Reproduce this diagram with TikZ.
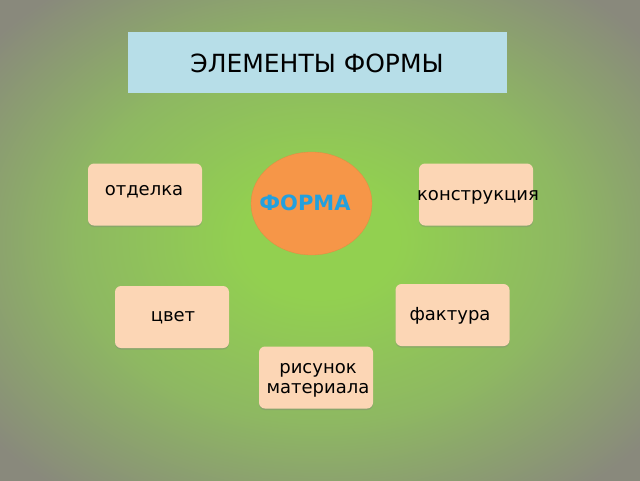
\documentclass[tikz,border=0pt]{standalone}
\usepackage{fontspec}
\setmainfont{DejaVu Sans}
\usepackage{tikz}
\usetikzlibrary{shapes.geometric,shadows}
\usepackage{xcolor}
\definecolor{bgA}{RGB}{146,208,80}
\definecolor{bgB}{RGB}{142,184,98}
\definecolor{bgC}{RGB}{137,137,124}
\definecolor{titlefill}{RGB}{183,222,232}
\definecolor{peach}{RGB}{252,214,181}
\definecolor{formfill}{RGB}{246,150,72}
\definecolor{formtext}{RGB}{35,160,222}
\pgfdeclareradialshading{bgshade}{\pgfpoint{0bp}{0bp}}{%
  color(0bp)=(bgA); color(6bp)=(bgA); color(19bp)=(bgB);
  color(33bp)=(bgC); color(50bp)=(bgC)}
\tikzset{
  titlebox/.style={draw=none, fill=titlefill, minimum width=379pt, minimum height=61pt, inner sep=0pt},
  formoval/.style={ellipse, draw=formfill!92!black, line width=0.3pt, fill=formfill, minimum width=121pt, minimum height=103pt, inner sep=0pt},
  elbox/.style={draw=none, rounded corners=6pt, fill=peach, minimum width=114pt, minimum height=62pt, inner sep=0pt,
    drop shadow={shadow xshift=0pt, shadow yshift=-1.5pt, opacity=0.35}},
  lab/.style={font=\fontsize{18}{20}\selectfont, align=center, inner sep=0pt},
  biglab/.style={font=\fontsize{25}{28}\selectfont, inner sep=0pt},
  formlab/.style={font=\fontsize{21}{24}\selectfont\bfseries, text=formtext, inner sep=0pt}
}

\begin{document}
\begin{tikzpicture}[x=1pt,y=-1pt]
\useasboundingbox (0,0) rectangle (640,480);
% background
\shade[shading=bgshade] (0,0) rectangle (640,480);

% title
\node[titlebox] (title) at (317.5,62.5) {};
\node[biglab] (titleT) at (317,63) {ЭЛЕМЕНТЫ ФОРМЫ};

% centre
\node[formoval] (forma) at (311.5,203.5) {};
\node[formlab] (formaT) at (305,203) {ФОРМА};

% elements
\node[elbox] (otdelka) at (145,194.5) {};
\node[lab] (otdelkaT) at (144,192) {отделка};
\node[elbox] (konstr) at (476,194.5) {};
\node[lab] (konstrT) at (478,197) {конструкция};
\node[elbox] (cvet) at (172,317) {};
\node[lab] (cvetT) at (173,318) {цвет};
\node[elbox] (faktura) at (452.5,315) {};
\node[lab] (fakturaT) at (450,316) {фактура};
\node[elbox] (risunok) at (316,377.5) {};
\node[lab] (risunokT) at (318,380) {рисунок\\ материала};
\end{tikzpicture}
\end{document}
